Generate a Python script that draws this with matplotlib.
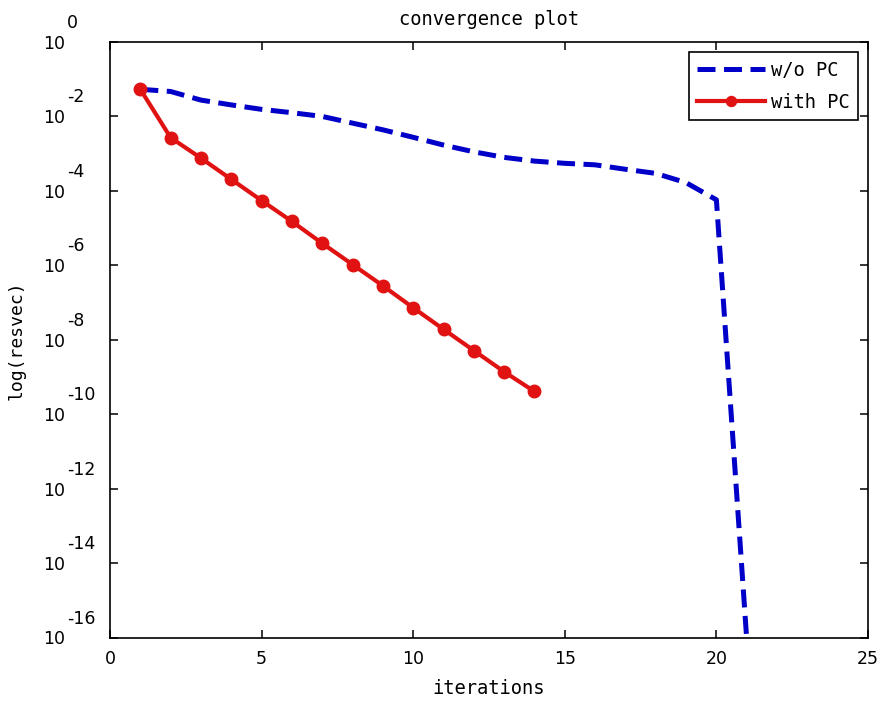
import matplotlib
matplotlib.use("Agg")
import matplotlib.pyplot as plt
import matplotlib.transforms as mtransforms

# residual history of the solver, with and without preconditioner
iters_no_pc = list(range(1, 22))
resvec_no_pc = [5.37e-2, 4.68e-2, 2.75e-2, 2.04e-2, 1.55e-2, 1.26e-2, 1.00e-2,
                6.61e-3, 4.37e-3, 2.75e-3, 1.70e-3, 1.12e-3, 7.94e-4, 6.31e-4,
                5.50e-4, 5.01e-4, 3.80e-4, 2.95e-4, 1.66e-4, 5.75e-5, 9.0e-17]

iters_pc = list(range(1, 15))
resvec_pc = [5.37e-2, 2.69e-3, 7.59e-4, 2.04e-4, 5.50e-5, 1.51e-5, 3.89e-6,
             1.05e-6, 2.82e-7, 7.24e-8, 1.91e-8, 5.13e-9, 1.38e-9, 4.07e-10]

x_ticks = [0, 5, 10, 15, 20, 25]
y_exponents = [0, -2, -4, -6, -8, -10, -12, -14, -16]

FONT = "DejaVu Sans Mono"
NUMFONT = "DejaVu Sans"
FS = 13.5
NFS = 12.5

fig = plt.figure(figsize=(8.8, 7.02), dpi=100)
fig.patch.set_facecolor("white")
ax = fig.add_axes([110 / 880, 1 - 637.5 / 702, 758 / 880, 595.5 / 702])

ax.semilogy(iters_no_pc, resvec_no_pc, color="#0000c8", lw=3.6,
            linestyle=(0, (3.6, 1.7)), label="w/o PC", dash_capstyle="butt")
ax.semilogy(iters_pc, resvec_pc, color="#e01212", lw=3.0, marker="o",
            markersize=9, label="with PC")

ax.set_xlim(0, 25)
ax.set_ylim(1e-16, 1e0)
ax.set_xticks(x_ticks)
ax.set_xticklabels([str(t) for t in x_ticks], fontfamily=NUMFONT, fontsize=NFS)
ax.set_yticks([10.0 ** e for e in y_exponents])
ax.yaxis.set_minor_locator(matplotlib.ticker.NullLocator())
ax.tick_params(axis="both", direction="in", length=6, width=1.1,
               top=True, right=True, labelleft=False)
ax.tick_params(axis="x", pad=9)
for s in ax.spines.values():
    s.set_linewidth(1.2)

# log-axis labels written as a base with a raised exponent
ytrans = ax.get_yaxis_transform()
base_tr = mtransforms.offset_copy(ytrans, fig=fig, x=-45, y=-2, units="dots")
exp_tr = mtransforms.offset_copy(ytrans, fig=fig, x=-43, y=19, units="dots")
for e in y_exponents:
    ax.text(0, 10.0 ** e, "10", transform=base_tr, ha="right", va="center",
            fontfamily=NUMFONT, fontsize=NFS, clip_on=False)
    ax.text(0, 10.0 ** e, str(e), transform=exp_tr, ha="left", va="center",
            fontfamily=NUMFONT, fontsize=NFS, clip_on=False)

ax.set_title("convergence plot", fontfamily=FONT, fontsize=FS, pad=12)
ax.set_xlabel("iterations", fontfamily=FONT, fontsize=FS, labelpad=8)
ax.set_ylabel("log(resvec)", fontfamily=FONT, fontsize=FS - 0.5)
ax.yaxis.set_label_coords(-0.112, 0.5)

leg = ax.legend(loc="upper right", prop={"family": FONT, "size": FS},
                fancybox=False, framealpha=1, edgecolor="black",
                handlelength=3.6, handletextpad=0.3, labelspacing=0.7,
                borderaxespad=0.55, borderpad=0.45, markerscale=0.8)
leg.get_frame().set_linewidth(1.2)

fig.savefig("out.png", dpi=100, facecolor="white")
